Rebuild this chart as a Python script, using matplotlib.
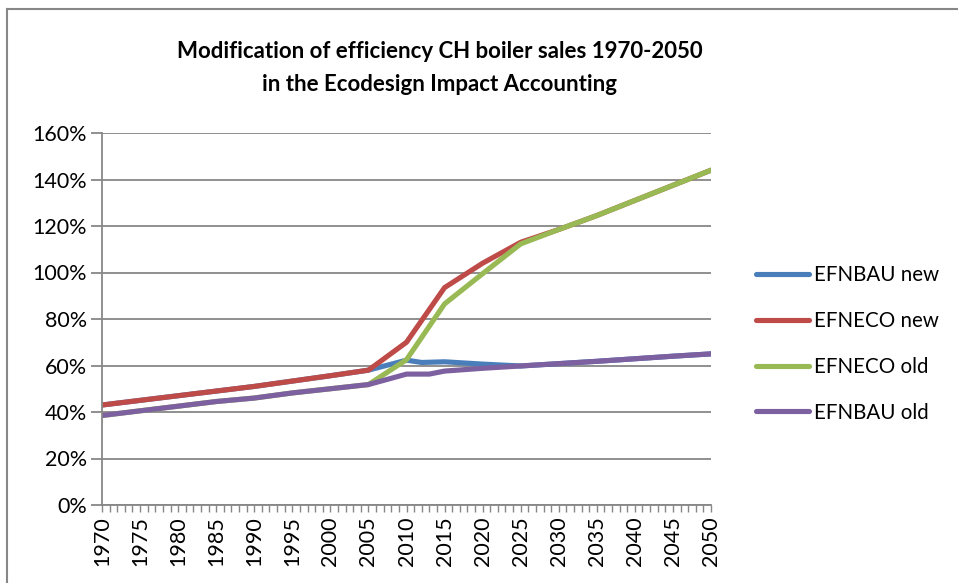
import matplotlib
matplotlib.use('Agg')
import matplotlib.pyplot as plt
from matplotlib.ticker import MultipleLocator, FuncFormatter
from matplotlib.lines import Line2D

# series data (percent) at the key years
years_common = [1970, 1975, 1980, 1985, 1990, 1995, 2000, 2005]
years_late = [2030, 2035, 2040, 2045, 2050]

new_early = [43.0, 45.0, 47.0, 49.0, 51.0, 53.3, 55.6, 58.0]
old_early = [38.5, 40.5, 42.5, 44.5, 46.0, 48.2, 50.0, 51.8]

bau_new_years = years_common + [2010, 2012, 2015, 2020, 2025] + years_late
bau_new_vals = new_early + [62.3, 61.3, 61.6, 60.6, 59.8] + [60.8, 61.8, 62.9, 64.0, 65.0]

eco_new_years = years_common + [2010, 2015, 2020, 2025] + years_late
eco_new_vals = new_early + [70.0, 93.5, 104.0, 113.0] + [118.5, 124.5, 131.0, 137.5, 144.0]

eco_old_years = years_common + [2010, 2015, 2020, 2025] + years_late
eco_old_vals = old_early + [62.5, 86.5, 99.5, 112.3] + [118.5, 124.5, 131.0, 137.5, 144.0]

bau_old_years = years_common + [2010, 2013, 2015, 2020, 2025] + years_late
bau_old_vals = old_early + [56.3, 56.3, 57.6, 58.8, 59.8] + [60.8, 61.8, 62.9, 64.0, 65.0]

series = [
    ('EFNBAU new', bau_new_years, bau_new_vals, '#4a7ebb'),
    ('EFNECO new', eco_new_years, eco_new_vals, '#be4b48'),
    ('EFNECO old', eco_old_years, eco_old_vals, '#98b954'),
    ('EFNBAU old', bau_old_years, bau_old_vals, '#7d60a0'),
]

plt.rcParams['font.family'] = ['Lato', 'DejaVu Sans']
grey = '#878787'

fig = plt.figure(figsize=(9.58, 5.83), dpi=100)
ax = fig.add_axes([102 / 958, 1 - 505 / 583, 609 / 958, 372 / 583])

for label, xs, ys, color in series:
    ax.plot(xs, ys, color=color, linewidth=3.7, solid_capstyle='round',
            solid_joinstyle='round', label=label)

ax.set_xlim(1970, 2050)
ax.set_ylim(0, 160)
ax.yaxis.set_major_locator(MultipleLocator(20))
ax.yaxis.set_major_formatter(FuncFormatter(lambda v, p: f'{v:.0f}%'))
ax.xaxis.set_major_locator(MultipleLocator(5))
ax.xaxis.set_minor_locator(MultipleLocator(1))
ax.xaxis.set_major_formatter(FuncFormatter(lambda v, p: f'{v:.0f}'))
ax.tick_params(axis='x', which='both', length=5, width=1, color=grey,
               labelrotation=90, labelsize=15.5, pad=3)
ax.tick_params(axis='y', length=8, width=1.3, color=grey, labelsize=15.5, pad=3)

ax.grid(axis='y', color=grey, linewidth=1.3)
ax.set_axisbelow(True)
for side in ('top', 'right'):
    ax.spines[side].set_visible(False)
for side in ('left', 'bottom'):
    ax.spines[side].set_color(grey)
    ax.spines[side].set_linewidth(1.3)

fig.text(440 / 958, 1 - 68 / 583,
         'Modification of efficiency CH boiler sales 1970-2050\nin the Ecodesign Impact Accounting',
         ha='center', va='center', fontsize=16, fontweight='bold', linespacing=1.65)

fig.legend(loc='center left', bbox_to_anchor=(737 / 958, 1 - 344 / 583),
           frameon=False, fontsize=14.8, handlelength=2.6, handletextpad=0.25,
           labelspacing=1.25)

# outer chart frame
fig.add_artist(Line2D([7 / 958, 7 / 958], [0, 1 - 9 / 583], transform=fig.transFigure,
                      color=grey, linewidth=1.5))
fig.add_artist(Line2D([7 / 958, 1], [1 - 9 / 583, 1 - 9 / 583], transform=fig.transFigure,
                      color=grey, linewidth=1.5))

fig.savefig('out.png', dpi=100)
